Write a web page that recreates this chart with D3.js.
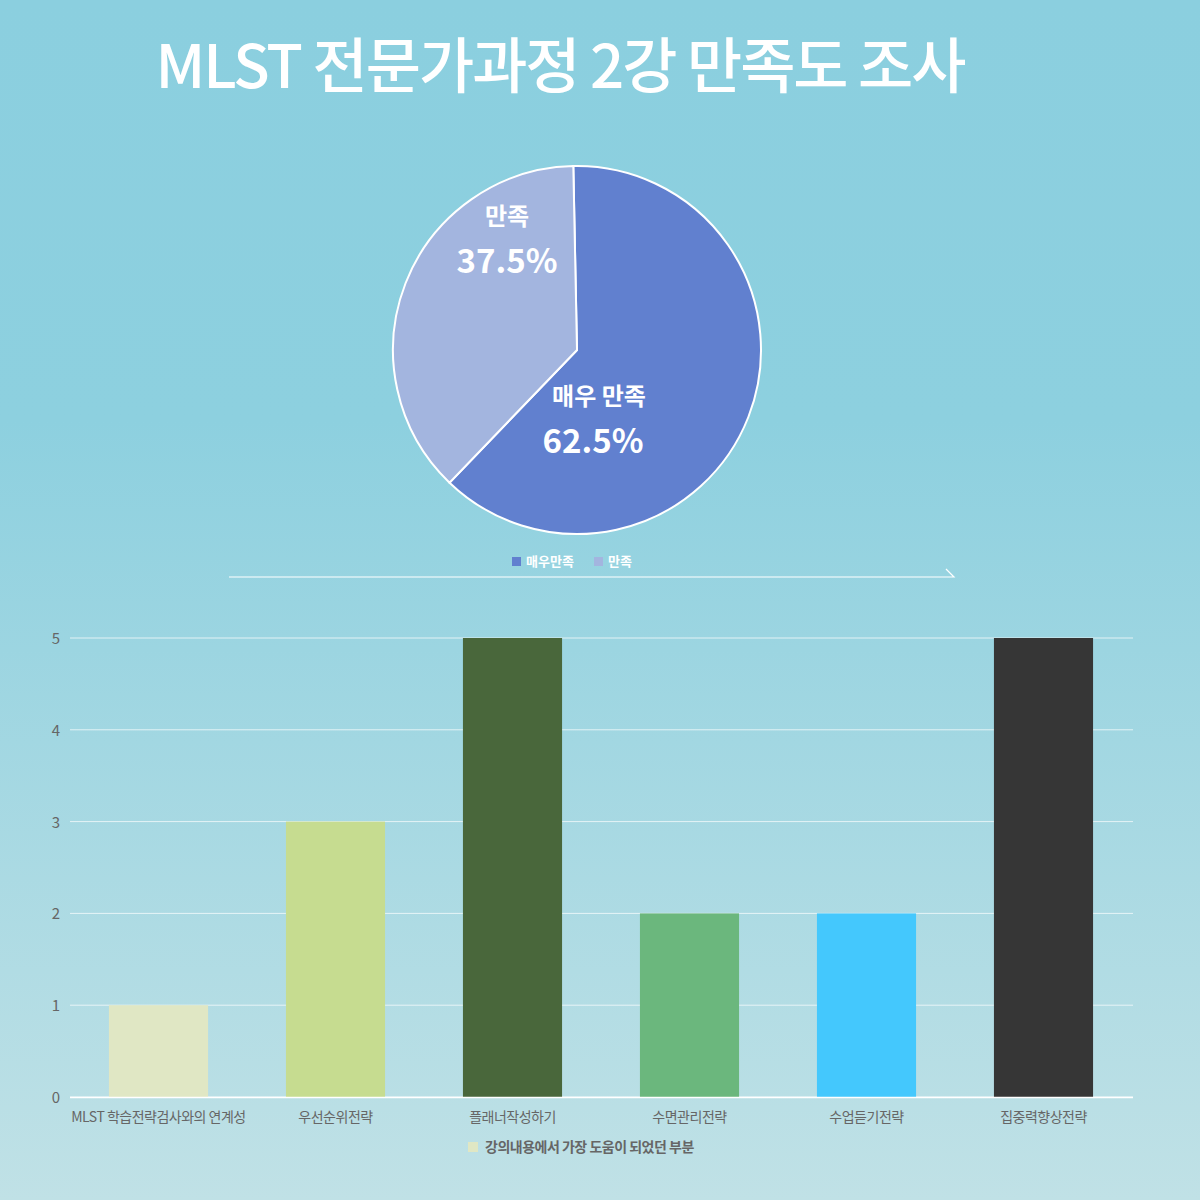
<!DOCTYPE html>
<html><head><meta charset="utf-8">
<script src="https://cdn.jsdelivr.net/npm/d3@7"></script>
<style>body{margin:0}svg{display:block;font-family:"Noto Sans CJK KR","Noto Sans",sans-serif}</style>
</head><body><svg id="c" width="1200" height="1200"></svg>
<script>
const pieLabels = ["매우 만족", "만족"];
const legendLabels = ["매우만족", "만족"];
const pieValues = [62.5, 37.5];
const pieColors = ["#6180CF", "#A3B5DF"];

const categories = ["MLST 학습전략검사와의 연계성", "우선순위전략", "플래너작성하기", "수면관리전략", "수업듣기전략", "집중력향상전략"];
const barValues = [1, 3, 5, 2, 2, 5];
const barColors = ["#E0E7C4", "#C6DC90", "#49673B", "#6BB77D", "#44C8FD", "#363636"];
const yTicks = [0, 1, 2, 3, 4, 5];

const svg = d3.select("#c");
const defs = svg.append("defs");
const g = defs.append("linearGradient").attr("id", "bg").attr("x1", 0).attr("y1", 0).attr("x2", 0).attr("y2", 1);
g.append("stop").attr("offset", "0").attr("stop-color", "#8BCFDF");
g.append("stop").attr("offset", "0.35").attr("stop-color", "#8DD0DF");
g.append("stop").attr("offset", "1").attr("stop-color", "#C0E1E6");
svg.append("rect").attr("width", 1200).attr("height", 1200).attr("fill", "url(#bg)");

svg.append("text").attr("x", 560).attr("y", 88).attr("text-anchor", "middle")
  .attr("fill", "#fff").attr("font-size", 60).attr("font-weight", 500).attr("letter-spacing", -2)
  .text("MLST 전문가과정 2강  만족도 조사");

// pie
const pg = svg.append("g").attr("transform", "translate(577,350)");
const arcs = d3.pie().sort(null).startAngle(-0.02).endAngle(2 * Math.PI - 0.02)(pieValues);
const arc = d3.arc().innerRadius(0).outerRadius(184);
pg.selectAll("path").data(arcs).join("path").attr("d", arc)
  .attr("fill", (d, i) => pieColors[i]).attr("stroke", "#fff").attr("stroke-width", 2);
const labPos = [[22, 55], [-70, -125]];
arcs.forEach((d, i) => {
  pg.append("text").attr("x", labPos[i][0]).attr("y", labPos[i][1]).attr("text-anchor", "middle")
    .attr("fill", "#fff").attr("font-size", 24).attr("font-weight", 700).text(pieLabels[i]);
  pg.append("text").attr("x", labPos[i][0] - (i ? 0 : 6)).attr("y", labPos[i][1] + 48).attr("text-anchor", "middle")
    .attr("fill", "#fff").attr("font-size", 33).attr("font-weight", 700).text(pieValues[i].toFixed(1) + "%");
});
// pie legend
const lx = [512, 594];
legendLabels.forEach((t, i) => {
  svg.append("rect").attr("x", lx[i]).attr("y", 557).attr("width", 9).attr("height", 9).attr("fill", pieColors[i]);
  svg.append("text").attr("x", lx[i] + 14).attr("y", 566).attr("fill", "#fff").attr("font-size", 13).attr("font-weight", 700).text(t);
});
svg.append("path").attr("d", "M229,577 H954 L946,569").attr("fill", "none").attr("stroke", "#fff").attr("stroke-width", 1.2);

// bars
const x = d3.scaleBand().domain(categories).range([70, 1132]).paddingInner(0.44).paddingOuter(0.22);
const y = d3.scaleLinear().domain([0, 5]).range([1097, 638]);
svg.append("g").selectAll("line").data(yTicks).join("line")
  .attr("x1", 70).attr("x2", 1133).attr("y1", d => y(d)).attr("y2", d => y(d))
  .attr("stroke", "#fff").attr("stroke-opacity", 0.7).attr("stroke-width", 1);
svg.append("g").selectAll("text").data(yTicks).join("text")
  .attr("x", 60).attr("y", d => y(d) + 6).attr("text-anchor", "end")
  .attr("fill", "#666").attr("font-size", 15).text(d => d);
svg.append("g").selectAll("rect").data(barValues).join("rect")
  .attr("x", (d, i) => x(categories[i])).attr("width", x.bandwidth())
  .attr("y", d => y(d)).attr("height", d => y(0) - y(d)).attr("fill", (d, i) => barColors[i]);
svg.append("line").attr("x1", 70).attr("x2", 1133).attr("y1", 1097.5).attr("y2", 1097.5).attr("stroke", "#fff").attr("stroke-width", 1.5);
svg.append("g").selectAll("text").data(categories).join("text")
  .attr("x", d => x(d) + x.bandwidth() / 2).attr("y", 1122).attr("text-anchor", "middle")
  .attr("fill", "#666").attr("font-size", 14).attr("letter-spacing", -0.5).text(d => d);
svg.append("rect").attr("x", 468).attr("y", 1142).attr("width", 10).attr("height", 10).attr("fill", barColors[0]);
svg.append("text").attr("x", 485).attr("y", 1152).attr("fill", "#666").attr("font-size", 14).attr("font-weight", 700)
  .attr("letter-spacing", -0.5).text("강의내용에서 가장 도움이 되었던 부분");
</script></body></html>
